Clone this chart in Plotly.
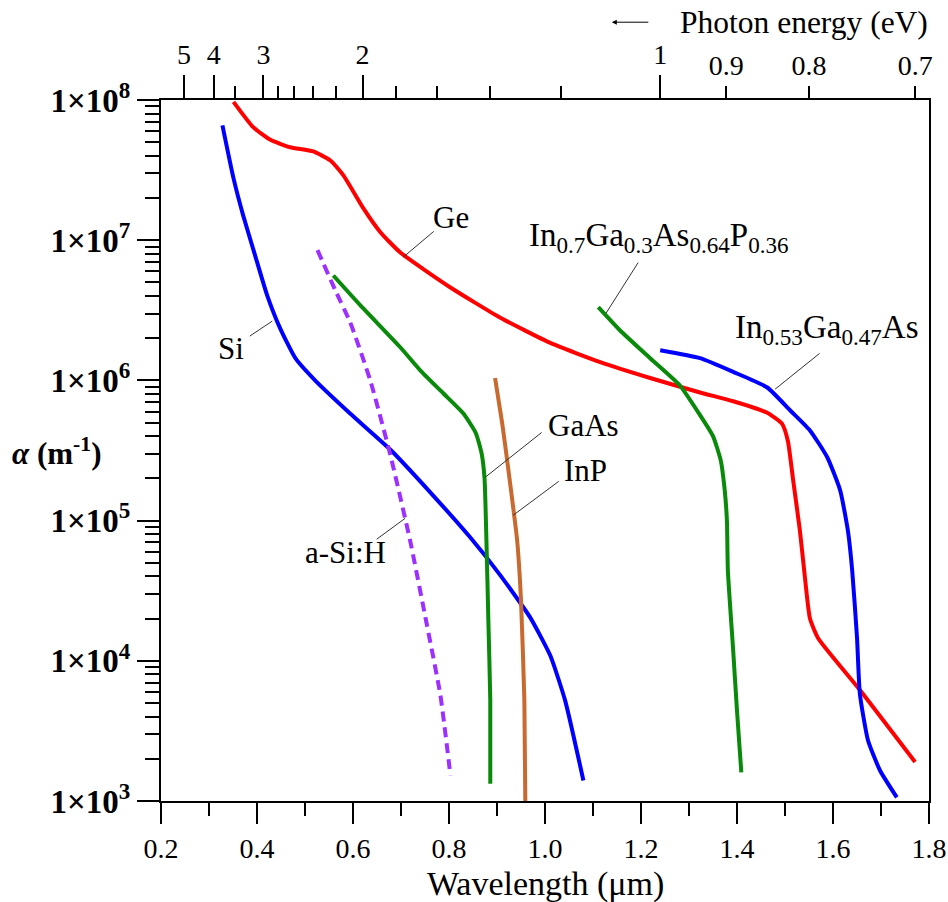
import plotly.graph_objects as go

# ---------------- data (wavelength in um, alpha in 1/m) ----------------
ge_wl = [0.351, 0.392, 0.428, 0.469, 0.517, 0.553, 0.580, 0.621, 0.657, 0.698, 0.803, 0.907,
         1.011, 1.115, 1.219, 1.323, 1.392, 1.462, 1.494, 1.506, 1.517, 1.531, 1.540, 1.552,
         1.569, 1.656, 1.771]
ge_alpha = [9.7e7, 6.4e7, 5.2e7, 4.6e7, 4.3e7, 3.7e7, 2.9e7, 1.7e7, 1.14e7, 8.2e6, 4.6e6, 2.8e6,
            1.85e6, 1.35e6, 1.04e6, 8.2e5, 7.1e5, 5.9e5, 4.9e5, 3.7e5, 1.94e5, 8.5e4, 4.4e4, 2.0e4,
            1.45e4, 6.2e3, 1.9e3]

si_wl = [0.328, 0.351, 0.371, 0.396, 0.421, 0.448, 0.480, 0.521, 0.594, 0.678, 0.761, 0.844,
         0.907, 0.969, 1.011, 1.042, 1.080]
si_alpha = [6.6e7, 2.77e7, 1.51e7, 7.8e6, 4.06e6, 2.36e6, 1.44e6, 1.0e6, 5.8e5, 3.2e5, 1.59e5,
            7.6e4, 4.07e4, 2.04e4, 1.09e4, 5.2e3, 1.4e3]

asi_wl = [0.526, 0.563, 0.594, 0.636, 0.678, 0.719, 0.750, 0.782, 0.803]
asi_alpha = [8.5e6, 4.4e6, 2.6e6, 1.0e6, 2.92e5, 7.2e4, 2.11e4, 5.7e3, 1.52e3]

gaas_wl = [0.559, 0.615, 0.698, 0.740, 0.788, 0.830, 0.856, 0.868, 0.874, 0.878, 0.882, 0.886, 0.886]
gaas_alpha = [5.6e6, 3.44e6, 1.73e6, 1.18e6, 8.1e5, 5.8e5, 4.2e5, 3.0e5, 2.0e5, 7.2e4, 1.94e4, 5.2e3, 1.33e3]

inp_wl = [0.896, 0.911, 0.923, 0.942, 0.950, 0.957, 0.959]
inp_alpha = [1.04e6, 4.9e5, 2.4e5, 7.2e4, 2.7e4, 5.2e3, 1.0e3]

ingaasp_wl = [1.111, 1.156, 1.219, 1.281, 1.323, 1.350, 1.366, 1.374, 1.379, 1.381, 1.392, 1.400, 1.409]
ingaasp_alpha = [3.33e6, 2.28e6, 1.44e6, 9.2e5, 5.65e5, 4.0e5, 2.7e5, 1.7e5, 1.0e5, 4.4e4, 1.19e4,
                 4.4e3, 1.6e3]

ingaas_wl = [1.240, 1.323, 1.392, 1.463, 1.511, 1.552, 1.588, 1.615, 1.631, 1.640, 1.650, 1.656,
             1.673, 1.698, 1.733]
ingaas_alpha = [1.64e6, 1.44e6, 1.15e6, 8.9e5, 6.1e5, 4.4e5, 2.83e5, 1.64e5, 8.5e4, 4.4e4,
                1.47e4, 5.8e3, 2.7e3, 1.65e3, 1.06e3]

# axis ticks
x_major = [0.2, 0.4, 0.6, 0.8, 1.0, 1.2, 1.4, 1.6, 1.8]
x_major_text = ["0.2", "0.4", "0.6", "0.8", "1.0", "1.2", "1.4", "1.6", "1.8"]
x_minor = [0.3, 0.5, 0.7, 0.9, 1.1, 1.3, 1.5, 1.7]
y_major = [1e3, 1e4, 1e5, 1e6, 1e7, 1e8]
y_major_text = ["1×10<sup>3</sup>", "1×10<sup>4</sup>", "1×10<sup>5</sup>",
                "1×10<sup>6</sup>", "1×10<sup>7</sup>", "1×10<sup>8</sup>"]
y_minor = [m * 10 ** e for e in range(3, 8) for m in range(2, 10)]
hc = 1.24  # eV*um
e_major = [5, 4, 3, 2, 1]
e_major_text = ["5", "4", "3", "2", "1"]
e_low = [0.9, 0.8, 0.7]
e_low_text = ["0.9", "0.8", "0.7"]
e_minor = [3.5, 2.8, 2.6, 2.4, 2.2, 1.8, 1.6, 1.4, 1.2]

FONT = "Liberation Serif, Times New Roman, Times, serif"

fig = go.Figure()

series = [
    ("Ge", ge_wl, ge_alpha, "#ff0000", "solid"),
    ("Si", si_wl, si_alpha, "#0000ff", "solid"),
    ("a-Si:H", asi_wl, asi_alpha, "#9b30ff", "10px,6px"),
    ("GaAs", gaas_wl, gaas_alpha, "#0a8a0a", "solid"),
    ("InP", inp_wl, inp_alpha, "#c8692f", "solid"),
    ("InGaAsP", ingaasp_wl, ingaasp_alpha, "#0a8a0a", "solid"),
    ("InGaAs", ingaas_wl, ingaas_alpha, "#0000ff", "solid"),
]
for name, xs, ys, col, dash in series:
    fig.add_trace(go.Scatter(x=xs, y=ys, mode="lines", name=name,
                             line=dict(color=col, width=4, dash=dash, shape="spline", smoothing=0.5),
                             showlegend=False, hoverinfo="skip"))

# invisible traces to anchor the top (photon energy) axes
for ax in ("x2", "x3"):
    fig.add_trace(go.Scatter(x=ge_wl, y=ge_alpha, xaxis=ax, yaxis="y", mode="lines",
                             line=dict(width=1, color="rgba(0,0,0,0)"), opacity=0,
                             showlegend=False, hoverinfo="skip"))

tickfont = dict(family=FONT, size=28, color="black")

fig.update_layout(
    template="none",
    width=948, height=902,
    margin=dict(l=161, r=19, t=100, b=101, autoexpand=False),
    paper_bgcolor="white", plot_bgcolor="white",
    font=dict(family=FONT, color="black"),
    xaxis=dict(range=[0.2, 1.8], showgrid=False, zeroline=False, automargin=False,
               showline=True, linecolor="black", linewidth=2, mirror=True,
               tickmode="array", tickvals=x_major, ticktext=x_major_text,
               ticks="outside", ticklen=21, tickwidth=2, tickcolor="black",
               tickfont=tickfont,
               minor=dict(tickvals=x_minor, ticks="outside", ticklen=13, tickwidth=2,
                          tickcolor="black", showgrid=False)),
    yaxis=dict(type="log", range=[3, 8], showgrid=False, zeroline=False, automargin=False,
               showline=True, linecolor="black", linewidth=2, mirror=True,
               tickmode="array", tickvals=y_major, ticktext=y_major_text,
               ticks="outside", ticklen=22, tickwidth=2, tickcolor="black",
               tickfont=dict(family=FONT, size=33, color="black", weight="bold"),
               minor=dict(tickvals=y_minor, ticks="outside", ticklen=14, tickwidth=2,
                          tickcolor="black", showgrid=False)),
    xaxis2=dict(overlaying="x", side="top", anchor="y", range=[0.2, 1.8], automargin=False,
                showgrid=False, zeroline=False, showline=False,
                tickmode="array", tickvals=[hc / e for e in e_major], ticktext=e_major_text,
                ticks="outside", ticklen=24, tickwidth=2, tickcolor="black",
                tickfont=tickfont,
                minor=dict(tickvals=[hc / e for e in e_minor], ticks="outside", ticklen=13,
                           tickwidth=2, tickcolor="black", showgrid=False)),
    xaxis3=dict(overlaying="x", side="top", anchor="y", range=[0.2, 1.8], automargin=False,
                showgrid=False, zeroline=False, showline=False,
                tickmode="array", tickvals=[hc / e for e in e_low], ticktext=e_low_text,
                ticks="outside", ticklen=13, tickwidth=2, tickcolor="black",
                tickfont=tickfont),
)

lab_font = dict(family=FONT, size=31, color="black")
form_font = dict(family=FONT, size=33, color="black")

# curve labels: (text, x, log10 y, xanchor, font)
labels = [
    ("Ge", 0.8045, 7.165, "center", lab_font),
    ("Si", 0.3464, 6.230, "center", lab_font),
    ("GaAs", 1.0793, 5.680, "center", lab_font),
    ("InP", 1.0835, 5.359, "center", lab_font),
    ("a-Si:H", 0.5838, 4.774, "center", lab_font),
    ("In<sub>0.7</sub>Ga<sub>0.3</sub>As<sub>0.64</sub>P<sub>0.36</sub>", 0.9628, 7.022, "left", form_font),
    ("In<sub>0.53</sub>Ga<sub>0.47</sub>As", 1.3913, 6.365, "left", form_font),
]
for txt, x, ly, xa, fnt in labels:
    fig.add_annotation(x=x, y=ly, xref="x", yref="y", text=txt, showarrow=False,
                       xanchor=xa, yanchor="middle", font=fnt)

# leader lines: head (x, log10 y) and tail offset in px
leaders = [
    (0.7046, 6.879, 32, -27),
    (0.4318, 6.423, -24, 16),
    (0.8754, 5.309, 58, -46),
    (0.9337, 5.038, 47, -35),
    (0.7086, 5.016, -30, 22),
    (1.1273, 6.480, 33, -52),
    (1.4793, 5.937, 46, -37),
]
for x, ly, ax, ay in leaders:
    fig.add_annotation(x=x, y=ly, xref="x", yref="y", text="", showarrow=True,
                       arrowhead=0, arrowwidth=1, arrowcolor="#333", ax=ax, ay=ay,
                       standoff=0, startstandoff=0)

# axis titles
fig.add_annotation(x=-0.1367, y=0.498, xref="paper", yref="paper",
                   text="<i>α</i> (m<sup>-1</sup>)", showarrow=False,
                   xanchor="center", yanchor="middle",
                   font=dict(family=FONT, size=31, color="black", weight="bold"))
fig.add_annotation(x=0.5, y=-0.118, xref="paper", yref="paper",
                   text="Wavelength (μm)", showarrow=False,
                   xanchor="center", yanchor="middle", font=dict(family=FONT, size=34, color="black"))
fig.add_annotation(x=1.0013, y=1.111, xref="paper", yref="paper",
                   text="Photon energy (eV)", showarrow=False,
                   xanchor="right", yanchor="middle", font=dict(family=FONT, size=31.5, color="black"))
fig.add_annotation(x=0.587, y=1.111, xref="paper", yref="paper", text="", showarrow=True,
                   arrowhead=2, arrowsize=1, arrowwidth=1, arrowcolor="black",
                   ax=38, ay=0, standoff=0)

fig.write_html("out.html", config={"displayModeBar": False},
               post_script="document.body.style.margin='0';")
